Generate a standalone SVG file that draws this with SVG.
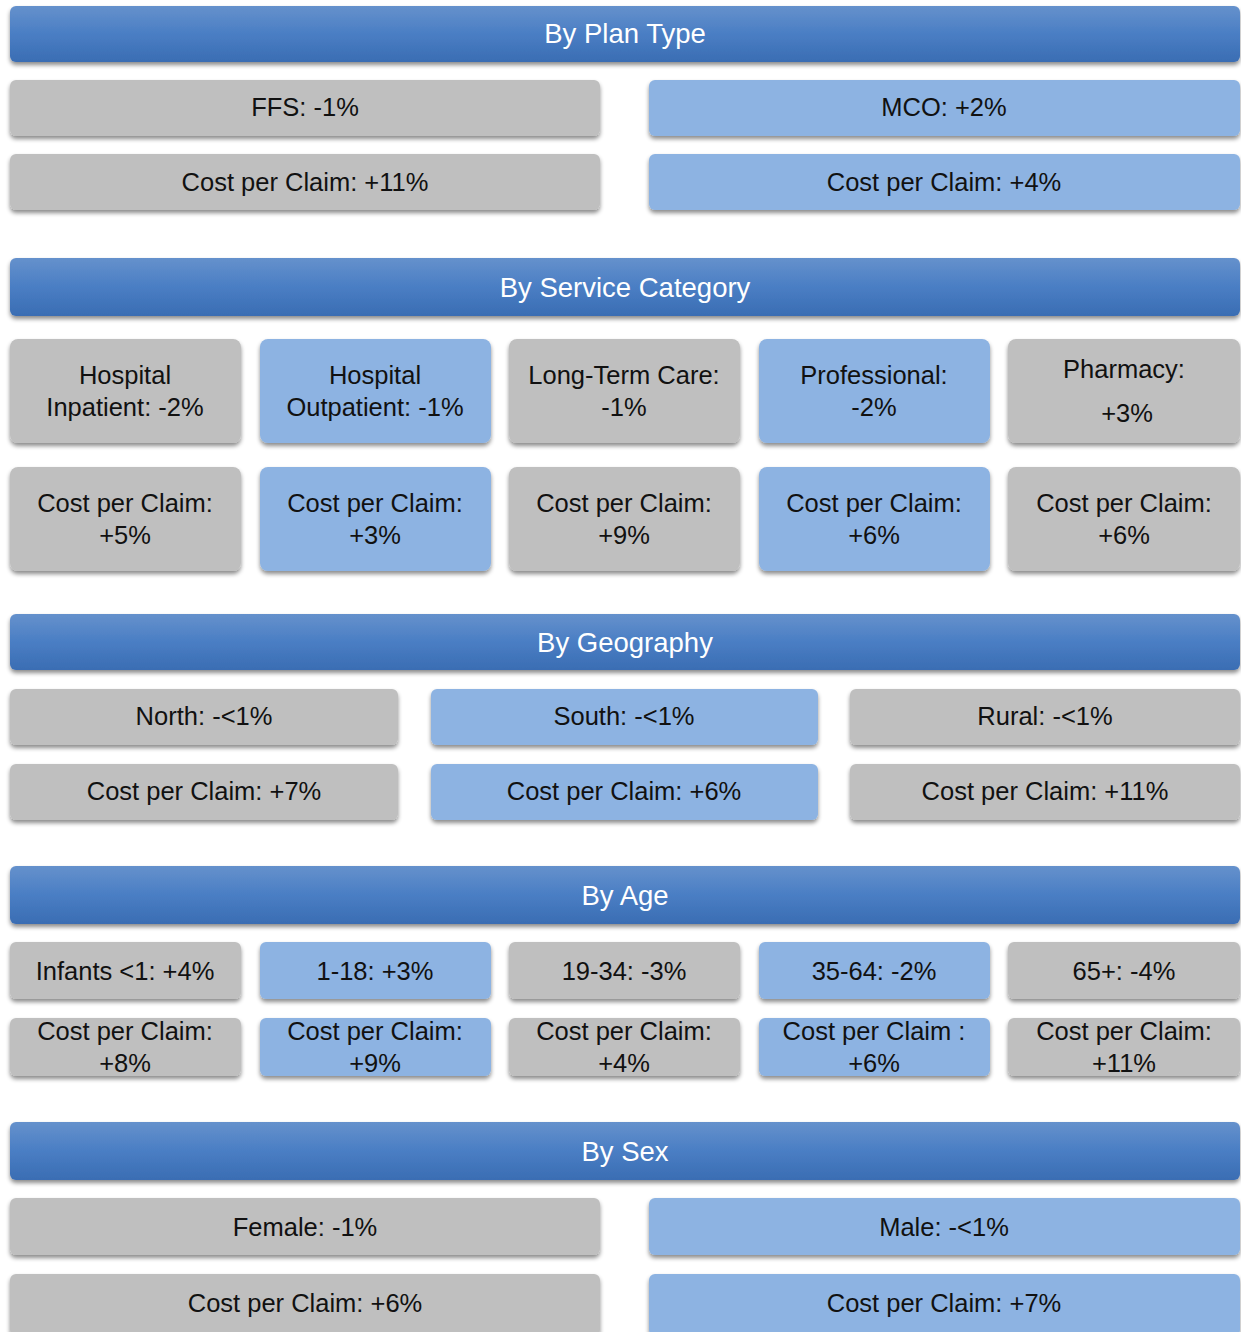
<svg xmlns="http://www.w3.org/2000/svg" width="1241" height="1332" viewBox="0 0 1241 1332">
<defs>
<linearGradient id="hg" x1="0" y1="0" x2="0" y2="1">
<stop offset="0" stop-color="#6591CC"/>
<stop offset="0.5" stop-color="#4A7EC4"/>
<stop offset="1" stop-color="#3A6DB3"/>
</linearGradient>
<filter id="sh" x="-5%" y="-20%" width="110%" height="150%">
<feDropShadow dx="0" dy="3" stdDeviation="2" flood-color="#000" flood-opacity="0.45"/>
</filter>
</defs>
<style>
.h{fill:url(#hg);filter:url(#sh)}
.g{fill:#BFBFBF;filter:url(#sh)}
.b{fill:#8DB3E2;filter:url(#sh)}
text{font-family:"Liberation Sans",Arial,sans-serif;font-size:25.5px;text-anchor:middle;dominant-baseline:central;fill:#111}
.ht{fill:#fff;font-size:27.5px}
</style>
<rect width="1241" height="1332" fill="#fff"/>
<g id="connectors"></g>

<g id="h1"><rect class="h" x="10" y="6" width="1230" height="56" rx="6"/><text class="ht" x="625" y="33">By Plan Type</text></g>
<g id="ffs"><rect class="g" x="10" y="80" width="590" height="56" rx="6"/><text x="305" y="107">FFS: -1%</text></g>
<g id="mco"><rect class="b" x="649" y="80" width="591" height="56" rx="6"/><text x="944" y="107">MCO: +2%</text></g>
<g id="ffs-c"><rect class="g" x="10" y="154" width="590" height="56" rx="6"/><text x="305" y="182">Cost per Claim: +11%</text></g>
<g id="mco-c"><rect class="b" x="649" y="154" width="591" height="56" rx="6"/><text x="944" y="182">Cost per Claim: +4%</text></g>

<g id="h2"><rect class="h" x="10" y="258" width="1230" height="58" rx="6"/><text class="ht" x="625" y="287">By Service Category</text></g>
<g id="s1"><rect class="g" x="10" y="339" width="231" height="104" rx="8"/><text x="125" y="375">Hospital</text><text x="125" y="407">Inpatient: -2%</text></g>
<g id="s2"><rect class="b" x="260" y="339" width="231" height="104" rx="8"/><text x="375" y="375">Hospital</text><text x="375" y="407">Outpatient: -1%</text></g>
<g id="s3"><rect class="g" x="509" y="339" width="231" height="104" rx="8"/><text x="624" y="375">Long-Term Care:</text><text x="624" y="407">-1%</text></g>
<g id="s4"><rect class="b" x="759" y="339" width="231" height="104" rx="8"/><text x="874" y="375">Professional:</text><text x="874" y="407">-2%</text></g>
<g id="s5"><rect class="g" x="1008" y="339" width="232" height="104" rx="8"/><text x="1124" y="369">Pharmacy:</text><text x="1127" y="413">+3%</text></g>
<g id="s1c"><rect class="g" x="10" y="467" width="231" height="104" rx="8"/><text x="125" y="503">Cost per Claim:</text><text x="125" y="535">+5%</text></g>
<g id="s2c"><rect class="b" x="260" y="467" width="231" height="104" rx="8"/><text x="375" y="503">Cost per Claim:</text><text x="375" y="535">+3%</text></g>
<g id="s3c"><rect class="g" x="509" y="467" width="231" height="104" rx="8"/><text x="624" y="503">Cost per Claim:</text><text x="624" y="535">+9%</text></g>
<g id="s4c"><rect class="b" x="759" y="467" width="231" height="104" rx="8"/><text x="874" y="503">Cost per Claim:</text><text x="874" y="535">+6%</text></g>
<g id="s5c"><rect class="g" x="1008" y="467" width="232" height="104" rx="8"/><text x="1124" y="503">Cost per Claim:</text><text x="1124" y="535">+6%</text></g>

<g id="h3"><rect class="h" x="10" y="614" width="1230" height="56" rx="6"/><text class="ht" x="625" y="642">By Geography</text></g>
<g id="north"><rect class="g" x="10" y="689" width="388" height="56" rx="6"/><text x="204" y="716">North: -&lt;1%</text></g>
<g id="south"><rect class="b" x="431" y="689" width="387" height="56" rx="6"/><text x="624" y="716">South: -&lt;1%</text></g>
<g id="rural"><rect class="g" x="850" y="689" width="390" height="56" rx="6"/><text x="1045" y="716">Rural: -&lt;1%</text></g>
<g id="north-c"><rect class="g" x="10" y="764" width="388" height="56" rx="6"/><text x="204" y="791">Cost per Claim: +7%</text></g>
<g id="south-c"><rect class="b" x="431" y="764" width="387" height="56" rx="6"/><text x="624" y="791">Cost per Claim: +6%</text></g>
<g id="rural-c"><rect class="g" x="850" y="764" width="390" height="56" rx="6"/><text x="1045" y="791">Cost per Claim: +11%</text></g>

<g id="h4"><rect class="h" x="10" y="866" width="1230" height="58" rx="6"/><text class="ht" x="625" y="895">By Age</text></g>
<g id="a1"><rect class="g" x="10" y="942" width="231" height="57" rx="6"/><text x="125" y="971">Infants &lt;1: +4%</text></g>
<g id="a2"><rect class="b" x="260" y="942" width="231" height="57" rx="6"/><text x="375" y="971">1-18: +3%</text></g>
<g id="a3"><rect class="g" x="509" y="942" width="231" height="57" rx="6"/><text x="624" y="971">19-34: -3%</text></g>
<g id="a4"><rect class="b" x="759" y="942" width="231" height="57" rx="6"/><text x="874" y="971">35-64: -2%</text></g>
<g id="a5"><rect class="g" x="1008" y="942" width="232" height="57" rx="6"/><text x="1124" y="971">65+: -4%</text></g>
<g id="a1c"><rect class="g" x="10" y="1018" width="231" height="58" rx="6"/><text x="125" y="1031">Cost per Claim:</text><text x="125" y="1063">+8%</text></g>
<g id="a2c"><rect class="b" x="260" y="1018" width="231" height="58" rx="6"/><text x="375" y="1031">Cost per Claim:</text><text x="375" y="1063">+9%</text></g>
<g id="a3c"><rect class="g" x="509" y="1018" width="231" height="58" rx="6"/><text x="624" y="1031">Cost per Claim:</text><text x="624" y="1063">+4%</text></g>
<g id="a4c"><rect class="b" x="759" y="1018" width="231" height="58" rx="6"/><text x="874" y="1031">Cost per Claim :</text><text x="874" y="1063">+6%</text></g>
<g id="a5c"><rect class="g" x="1008" y="1018" width="232" height="58" rx="6"/><text x="1124" y="1031">Cost per Claim:</text><text x="1124" y="1063">+11%</text></g>

<g id="h5"><rect class="h" x="10" y="1122" width="1230" height="58" rx="6"/><text class="ht" x="625" y="1151">By Sex</text></g>
<g id="female"><rect class="g" x="10" y="1198" width="590" height="57" rx="6"/><text x="305" y="1227">Female: -1%</text></g>
<g id="male"><rect class="b" x="649" y="1198" width="591" height="57" rx="6"/><text x="944" y="1227">Male: -&lt;1%</text></g>
<g id="female-c"><rect class="g" x="10" y="1274" width="590" height="62" rx="6"/><text x="305" y="1303">Cost per Claim: +6%</text></g>
<g id="male-c"><rect class="b" x="649" y="1274" width="591" height="62" rx="6"/><text x="944" y="1303">Cost per Claim: +7%</text></g>
</svg>
